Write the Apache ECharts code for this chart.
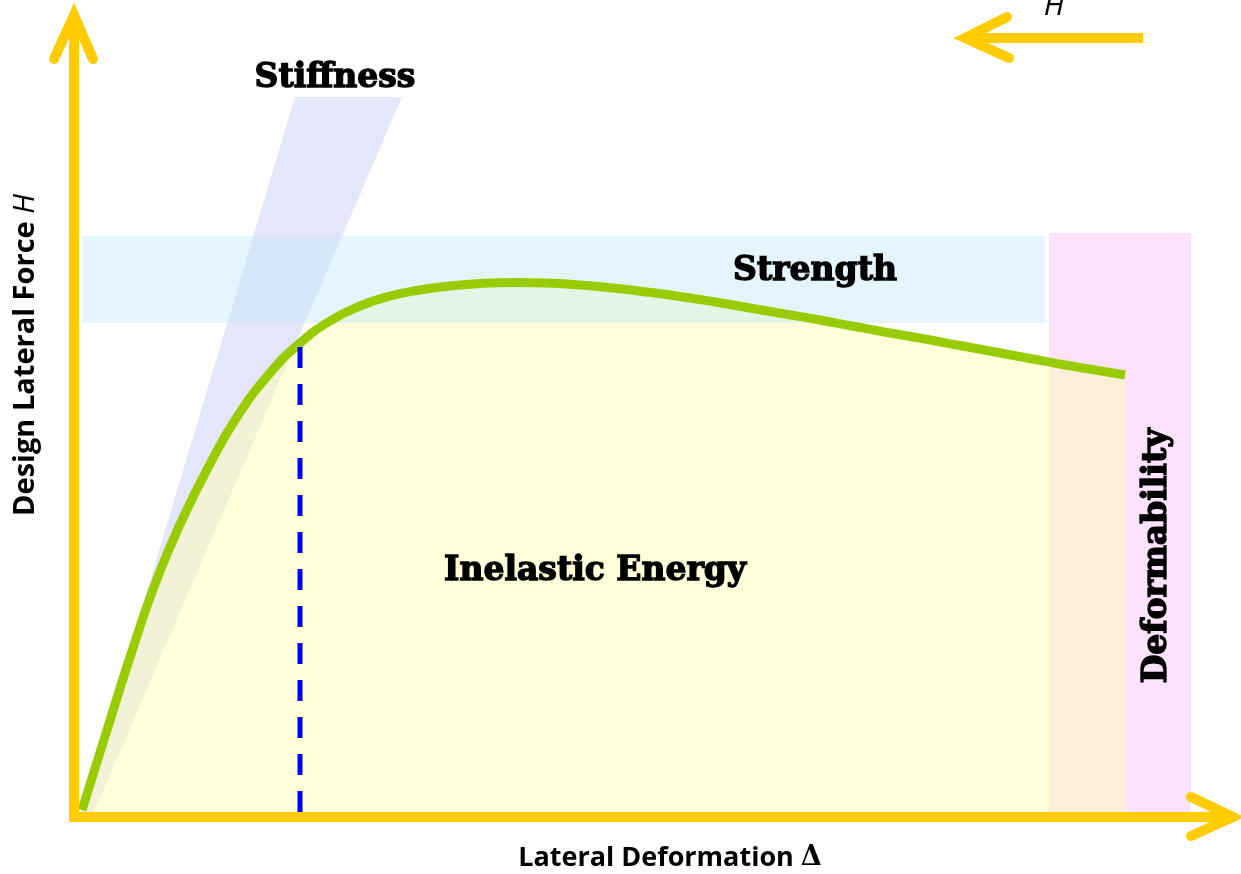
<!DOCTYPE html>
<html>
<head>
<meta charset="utf-8">
<script src="https://cdn.jsdelivr.net/npm/echarts@6/dist/echarts.min.js"></script>
<style>html,body{margin:0;padding:0;background:#fff}#main{width:1241px;height:874px}</style>
</head>
<body>
<div id="main"></div>
<script>
// force - deformation curve (x = lateral deformation, y = lateral force, arbitrary units)
const curveX = [0.7, 3.2, 5.7, 8.2, 10.8, 13.5, 16.2, 19.5, 22.5, 25.5, 28.5, 31.5, 34.5, 37.5, 40.5, 43.8, 47.2, 50.5, 53.8, 57.2, 60.5, 64, 67.5, 71, 74.5, 78, 81.5, 85, 88.5, 92, 95.5, 99, 102, 105];
const curveY = [0.7, 8.7, 16.6, 23.8, 29.9, 35.3, 40.0, 44.4, 47.4, 49.6, 51.1, 52.1, 52.7, 53.1, 53.35, 53.45, 53.4, 53.2, 52.9, 52.5, 52.05, 51.5, 50.9, 50.3, 49.7, 49.05, 48.4, 47.8, 47.15, 46.5, 45.85, 45.2, 44.7, 44.2];

// yield point marker (dashed)
const yieldX = [22.5, 22.5];
const yieldY = [0.5, 47.2];

// shaded bands
const strengthX = [0.7, 97, 97, 0.7];
const strengthY = [49.4, 49.4, 58.1, 58.1];
const deformX = [97.4, 111.6, 111.6, 97.4];
const deformY = [0.5, 0.5, 58.4, 58.4];
const stiffX = [0.5, 22, 32.7, 1.8];
const stiffY = [0.3, 72, 72, 0.3];

// axes and the small load arrow
const xAxisX = [-0.6, 115.5];
const xAxisY = [0, 0];
const xHeadX = [111.6, 115.8, 111.6];
const xHeadY = [2.0, 0, -1.9];
const yAxisX = [-0.1, -0.1];
const yAxisY = [-0.5, 79.9];
const yHeadX = [-2.1, -0.1, 1.8];
const yHeadY = [75.8, 80.2, 75.8];
const loadX = [106.8, 89.3];
const loadY = [77.9, 77.9];
const loadHeadX = [93.2, 89.0, 93.4];
const loadHeadY = [80.0, 77.9, 75.9];

const pairs = (xs, ys) => xs.map((x, i) => [x, ys[i]]);

function polygon(xs, ys, color, z) {
  return {
    type: 'custom', z: z, silent: true, data: [[0, 0]],
    renderItem: function (params, api) {
      const pts = xs.map((x, i) => api.coord([x, ys[i]]));
      return { type: 'polygon', shape: { points: pts }, style: { fill: color } };
    }
  };
}

function stroke(xs, ys, color, width, z, extra) {
  return Object.assign({
    type: 'line', z: z, silent: true, showSymbol: false, symbol: 'none',
    data: pairs(xs, ys),
    lineStyle: { color: color, width: width, cap: 'round', join: 'miter' }
  }, extra || {});
}

// heavy display label
function label(text, x, y, rot) {
  return {
    type: 'text', z: 100, x: x, y: y, rotation: rot || 0,
    style: {
      text: text, font: 'bold 33px "DejaVu Serif"', fill: '#000',
      stroke: '#000', lineWidth: 1.4, align: 'center', verticalAlign: 'middle'
    }
  };
}

const chart = echarts.init(document.getElementById('main'));
const yellow = '#FFCC00';

chart.setOption({
  animation: false,
  grid: { left: 0, right: 0, top: 0, bottom: 0 },
  xAxis: { type: 'value', min: -7.5, max: 116.6, show: false },
  yAxis: { type: 'value', min: -5.7, max: 81.7, show: false },
  series: [
    polygon(deformX, deformY, 'rgba(250,190,250,0.45)', 1),
    polygon(stiffX, stiffY, 'rgba(200,200,245,0.45)', 1),
    {
      type: 'line', z: 2, silent: true, smooth: 0.5, showSymbol: false, symbol: 'none',
      data: pairs(curveX, curveY),
      lineStyle: { width: 0 },
      areaStyle: { color: 'rgba(255,255,175,0.68)', origin: 'auto' }
    },
    polygon(strengthX, strengthY, 'rgba(195,232,250,0.45)', 3),
    {
      type: 'line', z: 4, silent: true, smooth: 0.5, showSymbol: false, symbol: 'none',
      data: pairs(curveX, curveY),
      lineStyle: { color: '#99CC00', width: 9, cap: 'butt' }
    },
    stroke(yieldX, yieldY, '#0000FF', 5, 4, {
      lineStyle: { color: '#0000FF', width: 5, type: [21, 16], cap: 'butt' }
    }),
    stroke(xAxisX, xAxisY, yellow, 10, 5, { lineStyle: { color: yellow, width: 10, cap: 'butt' } }),
    stroke(yAxisX, yAxisY, yellow, 10, 5, { lineStyle: { color: yellow, width: 10, cap: 'butt' } }),
    stroke(xHeadX, xHeadY, yellow, 10, 5),
    stroke(yHeadX, yHeadY, yellow, 10, 5),
    stroke(loadX, loadY, yellow, 10, 5, { lineStyle: { color: yellow, width: 10, cap: 'butt' } }),
    stroke(loadHeadX, loadHeadY, yellow, 10, 5)
  ],
  graphic: [
    label('Stiffness', 335, 78),
    label('Strength', 815, 271),
    label('Inelastic Energy', 595, 571),
    label('Deformability', 1157, 556, Math.PI / 2),
    { type: 'text', z: 100, x: 1054, y: 6, style: { text: 'H', font: 'italic 30px "Open Sans"', fill: '#000', align: 'center', verticalAlign: 'middle' } },
    {
      type: 'text', z: 100, x: 26, y: 355, rotation: Math.PI / 2,
      style: {
        text: 'Design Lateral Force {i|H}', font: 'bold 29px "Open Sans"', fill: '#000', align: 'center', verticalAlign: 'middle',
        rich: { i: { fontStyle: 'italic', fontWeight: 'normal', fontSize: 29, fontFamily: 'Open Sans' } }
      }
    },
    {
      type: 'text', z: 100, x: 670, y: 858,
      style: {
        text: 'Lateral Deformation {d|Δ}', font: 'bold 27px "Open Sans"', fill: '#000', align: 'center', verticalAlign: 'middle',
        rich: { d: { fontFamily: 'DejaVu Serif', fontWeight: 'bold', fontSize: 27 } }
      }
    }
  ]
});
</script>
</body>
</html>
